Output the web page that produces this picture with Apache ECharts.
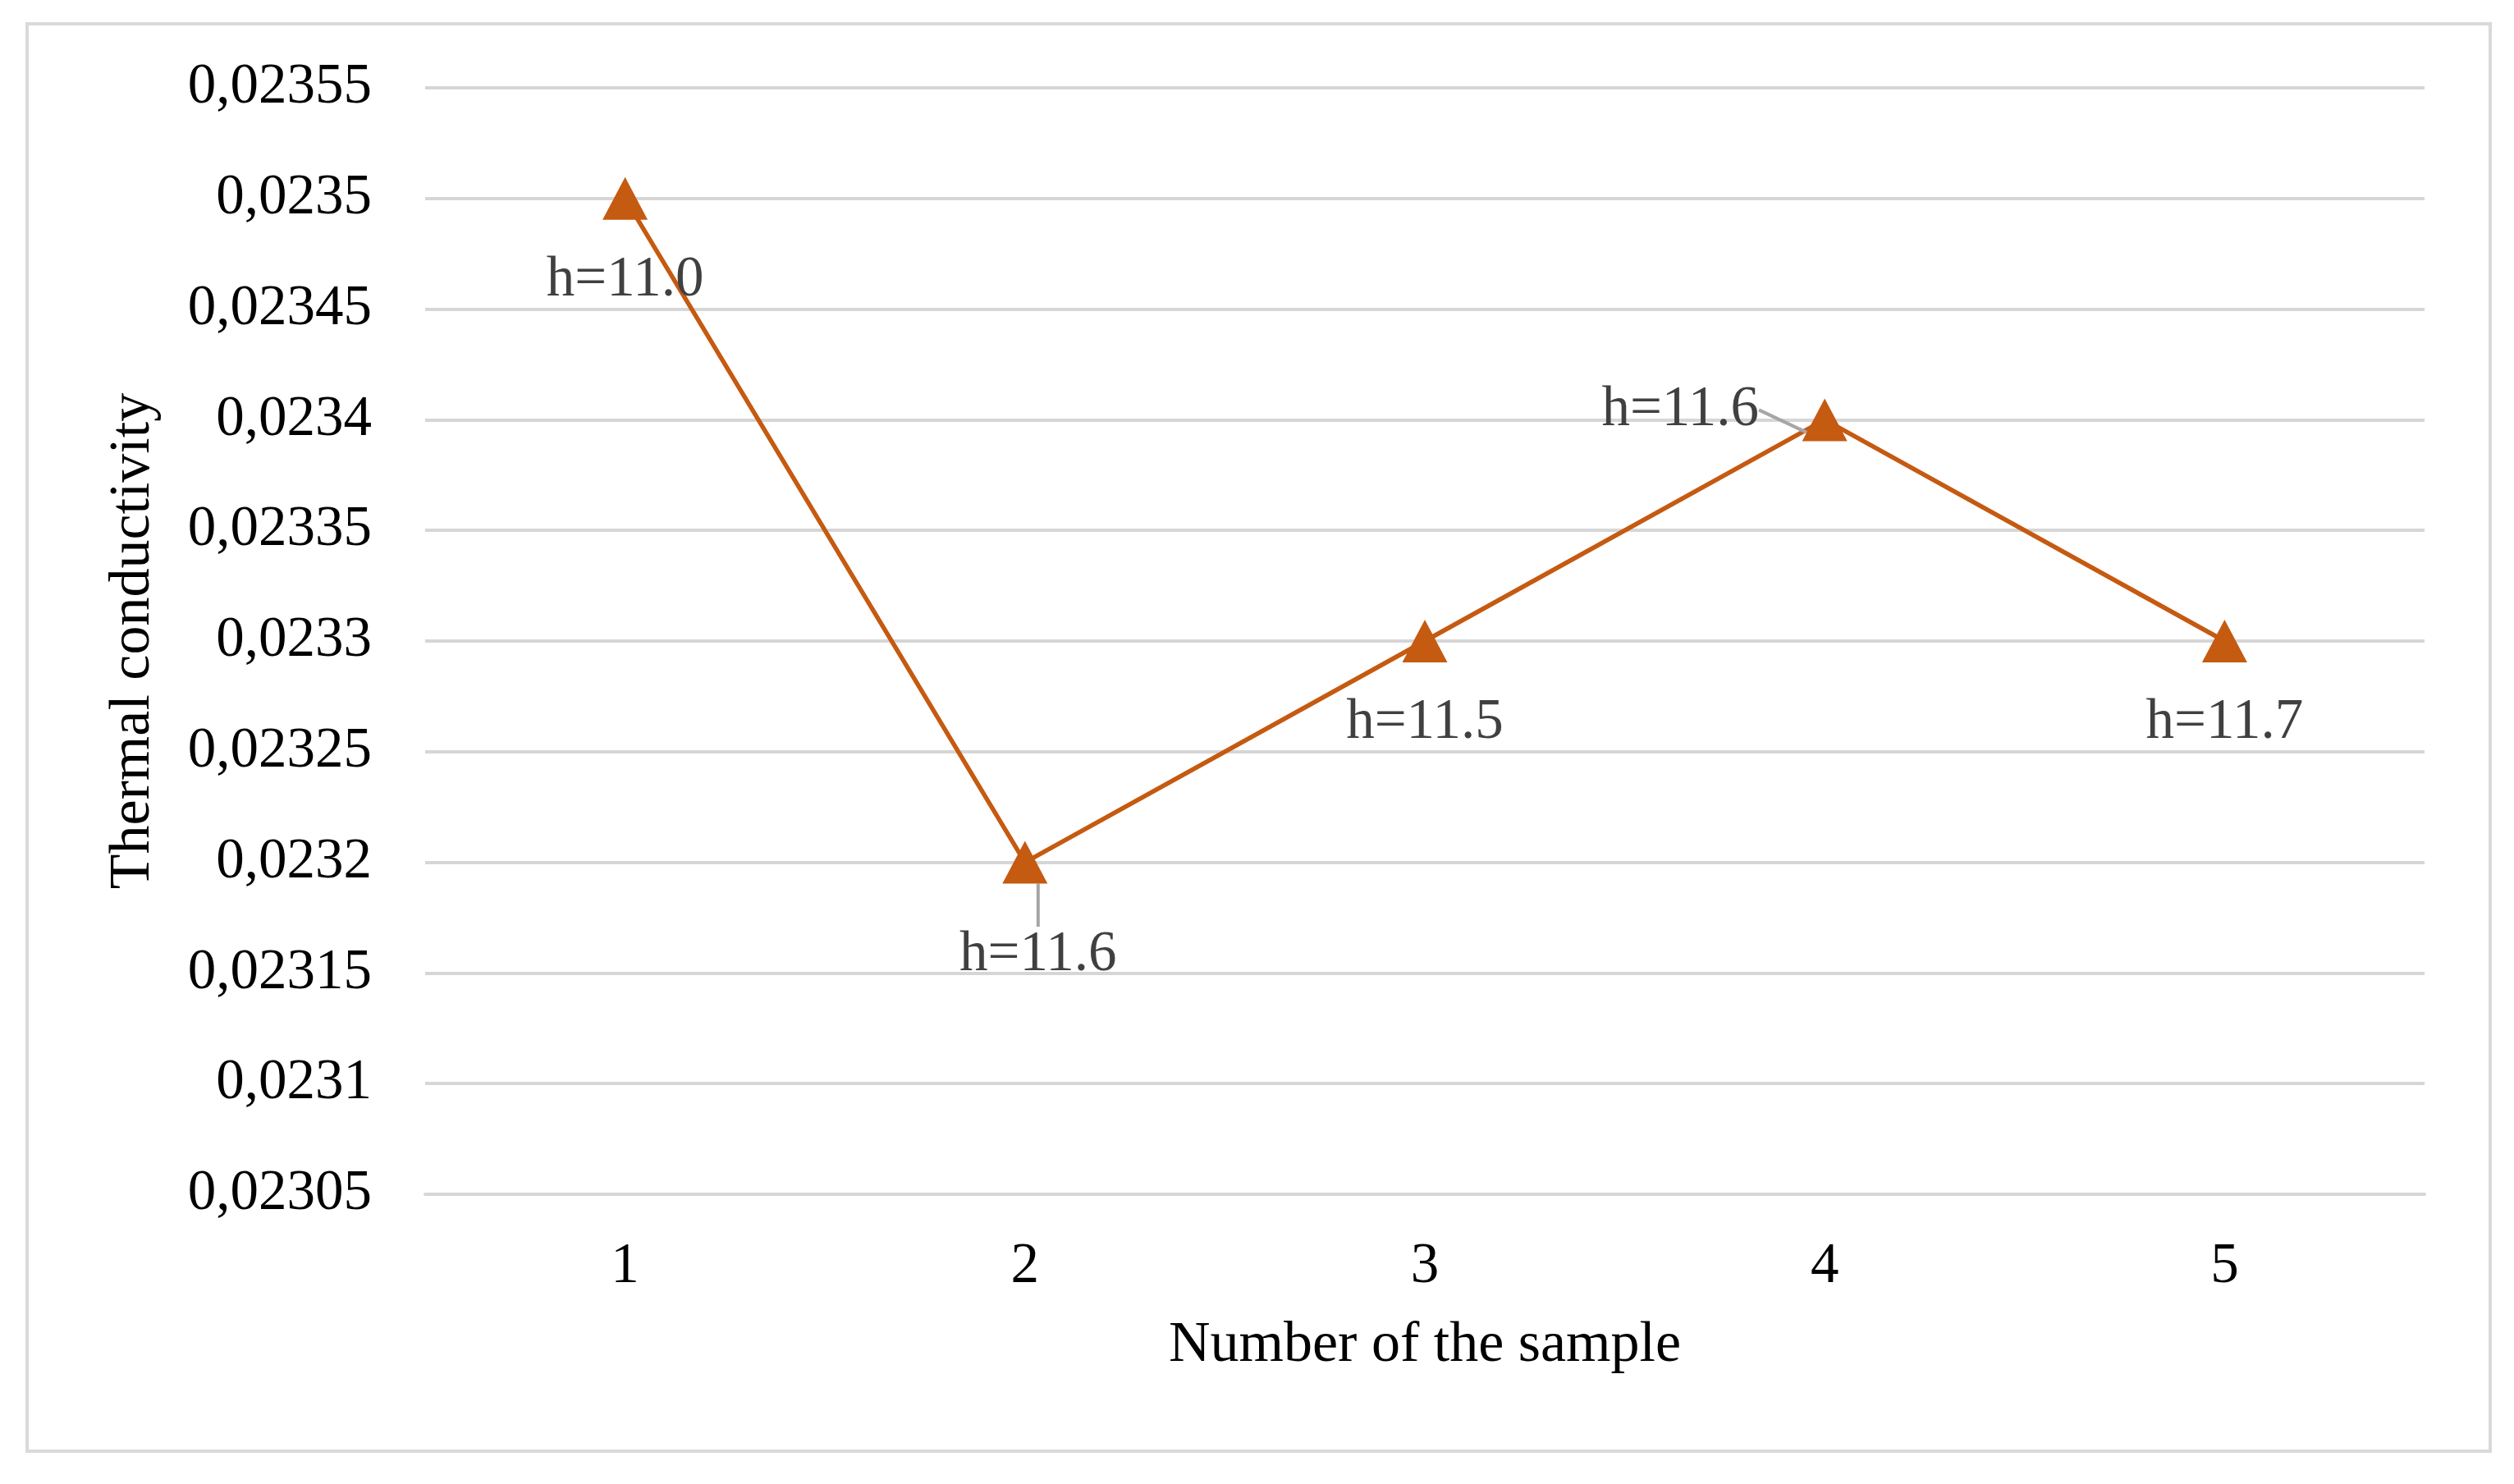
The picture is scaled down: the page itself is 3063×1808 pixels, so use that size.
<!DOCTYPE html>
<html>
<head>
<meta charset="utf-8">
<script src="https://cdn.jsdelivr.net/npm/echarts@6/dist/echarts.min.js"></script>
<style>
html,body{margin:0;padding:0;background:#fff;}
#chart{width:3063px;height:1808px;}
</style>
</head>
<body>
<div id="chart"></div>
<script>
// ---- data ----
const categories = ['1', '2', '3', '4', '5'];
const conductivity = [0.0235, 0.0232, 0.0233, 0.0234, 0.0233];
const heightLabels = ['h=11.0', 'h=11.6', 'h=11.5', 'h=11.6', 'h=11.7'];
const yMin = 0.02305, yMax = 0.02355, yStep = 0.00005;
const xAxisTitle = 'Number of the sample';
const yAxisTitle = 'Thermal conductivity';

// ---- label placement (layout, not data) ----
const labelShift = [[0, 100], [16, 113], [0, 100], [-176, -12], [0, 100]];
// leader-line bends relative to the marker centre (pixels)
const guidePath = {
  1: [[1, 2], [10, 30], [18, 57]],
  3: [[-51, -13], [-23, -13], [-1, -1]]
};

const FONT = 'Liberation Serif, Times New Roman, serif';
const ORANGE = '#C55A11';

const chart = echarts.init(document.getElementById('chart'));
const seriesData = conductivity.map((v, i) => ({
  value: v,
  label: { show: true, position: 'inside', formatter: heightLabels[i] },
  labelLine: { show: !!guidePath[i] }
}));

chart.setOption({
  backgroundColor: '#fff',
  animation: false,
  graphic: [{
    type: 'rect',
    shape: { x: 33, y: 29, width: 3001, height: 1739 },
    style: { fill: 'none', stroke: '#d9d9d9', lineWidth: 4 },
    silent: true
  }],
  grid: { left: 518, right: 109, top: 107, bottom: 353 },
  xAxis: {
    type: 'category',
    data: categories,
    boundaryGap: true,
    axisLine: { show: true, lineStyle: { color: '#d6d6d6', width: 4 } },
    axisTick: { show: false },
    axisLabel: { color: '#000', fontFamily: FONT, fontSize: 69, margin: 54 },
    name: xAxisTitle,
    nameLocation: 'middle',
    nameGap: 150,
    nameTextStyle: { color: '#000', fontFamily: FONT, fontSize: 70 }
  },
  yAxis: {
    type: 'value',
    min: yMin, max: yMax, interval: yStep,
    axisLine: { show: false },
    axisTick: { show: false },
    splitLine: { show: true, lineStyle: { color: '#d6d6d6', width: 4 } },
    axisLabel: {
      color: '#000', fontFamily: FONT, fontSize: 69, margin: 65,
      formatter: v => String(Math.round(v * 1e5) / 1e5).replace('.', ',')
    },
    name: yAxisTitle,
    nameLocation: 'middle',
    nameGap: 320,
    nameTextStyle: { color: '#000', fontFamily: FONT, fontSize: 70 }
  },
  series: [{
    type: 'line',
    data: seriesData,
    symbol: 'triangle',
    symbolSize: [55, 52],
    itemStyle: { color: ORANGE },
    lineStyle: { color: ORANGE, width: 5.5 },
    label: { color: '#404040', fontFamily: FONT, fontSize: 69 },
    labelLine: { lineStyle: { color: '#a6a6a6', width: 4 } },
    labelLayout: function (p) {
      const i = p.dataIndex;
      const out = { dx: labelShift[i][0], dy: labelShift[i][1] };
      const path = guidePath[i];
      if (path) {
        const cx = p.rect.x + p.rect.width / 2;
        const cy = p.rect.y + p.rect.height / 2;
        out.labelLinePoints = path.map(q => [cx + q[0], cy + q[1]]);
      }
      return out;
    }
  }]
});
</script>
</body>
</html>
